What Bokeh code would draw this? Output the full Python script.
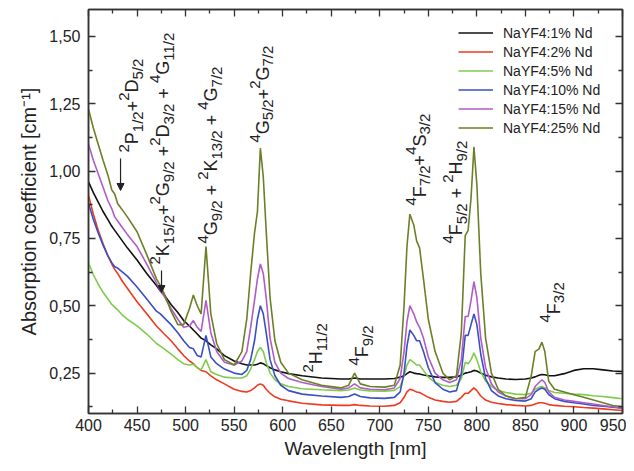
import math
import re
from bokeh.plotting import figure
from bokeh.models import (ColumnDataSource, FixedTicker, LinearAxis, CustomJSTickFormatter,
                          Arrow, NormalHead, Range1d)
from bokeh.embed import file_html
from bokeh.resources import INLINE
from bokeh.core.properties import value

# ---------------- data ----------------
wavelength = [400, 405, 410, 415, 420, 424, 427, 430, 435, 440,
              450, 460, 470, 474, 478, 485, 492, 498, 504, 508,
              512, 516, 521, 526, 532, 540, 550, 558, 563, 567,
              571, 574, 577, 580, 583, 587, 592, 598, 606, 620,
              640, 660, 668, 674, 680, 690, 705, 715, 721, 725,
              728, 731, 735, 738, 741, 745, 750, 757, 765, 772,
              779, 784, 788, 791, 794, 797, 800, 804, 809, 815,
              822, 830, 840, 850, 856, 860, 864, 867, 870, 874,
              880, 890, 900, 910, 920, 930, 940, 950]

nd_1 = [0.96, 0.92, 0.885, 0.85, 0.82, 0.795, 0.78, 0.765, 0.74, 0.715,
        0.67, 0.62, 0.575, 0.555, 0.54, 0.505, 0.475, 0.445, 0.425, 0.41,
        0.395, 0.38, 0.37, 0.355, 0.34, 0.315, 0.295, 0.285, 0.28, 0.28,
        0.28, 0.283, 0.288, 0.285, 0.278, 0.27, 0.262, 0.255, 0.248, 0.24,
        0.232, 0.228, 0.228, 0.232, 0.228, 0.228, 0.228, 0.23, 0.235, 0.24,
        0.248, 0.255, 0.25, 0.248, 0.247, 0.243, 0.24, 0.236, 0.234, 0.234,
        0.236, 0.242, 0.25, 0.252, 0.255, 0.26, 0.258, 0.25, 0.242, 0.236,
        0.232, 0.228, 0.226, 0.228, 0.232, 0.236, 0.242, 0.245, 0.244, 0.24,
        0.24, 0.248, 0.26, 0.266, 0.266, 0.262, 0.258, 0.256]

nd_2 = [0.91, 0.84, 0.78, 0.73, 0.685, 0.655, 0.635, 0.62, 0.59, 0.565,
        0.515, 0.47, 0.425, 0.41, 0.395, 0.37, 0.34, 0.315, 0.295, 0.285,
        0.27, 0.26, 0.255, 0.24, 0.225, 0.21, 0.19, 0.182, 0.18, 0.185,
        0.195, 0.205, 0.21, 0.205, 0.19, 0.175, 0.162, 0.153, 0.147, 0.138,
        0.132, 0.13, 0.13, 0.133, 0.13, 0.128, 0.127, 0.13, 0.14, 0.16,
        0.18, 0.19, 0.185, 0.18, 0.178, 0.17, 0.16, 0.15, 0.145, 0.142,
        0.145, 0.16, 0.175, 0.175, 0.185, 0.195, 0.185, 0.165, 0.15, 0.142,
        0.137, 0.133, 0.13, 0.128, 0.13, 0.135, 0.14, 0.14, 0.138, 0.133,
        0.13, 0.127, 0.125, 0.122, 0.12, 0.117, 0.114, 0.111]

nd_5 = [0.66, 0.615, 0.58, 0.55, 0.525, 0.505, 0.495, 0.485, 0.465, 0.45,
        0.425, 0.395, 0.36, 0.35, 0.34, 0.32, 0.30, 0.285, 0.28, 0.283,
        0.27, 0.262, 0.30, 0.255, 0.245, 0.235, 0.232, 0.232, 0.24, 0.265,
        0.30, 0.33, 0.345, 0.33, 0.29, 0.25, 0.225, 0.21, 0.20, 0.192,
        0.188, 0.185, 0.187, 0.195, 0.187, 0.184, 0.183, 0.186, 0.20, 0.24,
        0.28, 0.30, 0.29, 0.28, 0.28, 0.26, 0.235, 0.215, 0.205, 0.20,
        0.205, 0.23, 0.29, 0.285, 0.30, 0.325, 0.30, 0.255, 0.22, 0.20,
        0.185, 0.178, 0.172, 0.17, 0.175, 0.19, 0.197, 0.20, 0.195, 0.185,
        0.178, 0.175, 0.172, 0.17, 0.166, 0.163, 0.159, 0.155]

nd_10 = [0.88, 0.82, 0.77, 0.725, 0.685, 0.66, 0.645, 0.64, 0.625, 0.61,
         0.57, 0.525, 0.48, 0.47, 0.455, 0.43, 0.40, 0.37, 0.345, 0.34,
         0.315, 0.31, 0.39, 0.31, 0.285, 0.265, 0.25, 0.245, 0.26, 0.30,
         0.37, 0.45, 0.50, 0.47, 0.40, 0.30, 0.24, 0.205, 0.185, 0.172,
         0.165, 0.16, 0.163, 0.172, 0.163, 0.158, 0.156, 0.16, 0.18, 0.25,
         0.35, 0.41, 0.39, 0.37, 0.37, 0.33, 0.27, 0.215, 0.19, 0.18,
         0.185, 0.25, 0.39, 0.39, 0.43, 0.47, 0.43, 0.32, 0.23, 0.185,
         0.165, 0.155, 0.148, 0.146, 0.155, 0.18, 0.19, 0.195, 0.19, 0.17,
         0.155, 0.145, 0.14, 0.135, 0.13, 0.127, 0.123, 0.12]

nd_15 = [1.10, 1.04, 0.99, 0.94, 0.89, 0.86, 0.83, 0.815, 0.79, 0.765,
         0.72, 0.655, 0.585, 0.555, 0.535, 0.49, 0.45, 0.42, 0.425, 0.445,
         0.42, 0.405, 0.52, 0.40, 0.33, 0.29, 0.28, 0.295, 0.33, 0.42,
         0.52, 0.60, 0.655, 0.62, 0.53, 0.38, 0.29, 0.25, 0.23, 0.215,
         0.20, 0.19, 0.195, 0.21, 0.195, 0.19, 0.188, 0.195, 0.23, 0.33,
         0.44, 0.50, 0.47, 0.44, 0.42, 0.38, 0.31, 0.25, 0.225, 0.215,
         0.225, 0.30, 0.46, 0.46, 0.52, 0.59, 0.53, 0.38, 0.27, 0.21,
         0.18, 0.165, 0.155, 0.155, 0.17, 0.20, 0.215, 0.225, 0.215, 0.18,
         0.16, 0.15, 0.145, 0.14, 0.135, 0.13, 0.125, 0.12]

nd_25 = [1.23, 1.16, 1.10, 1.04, 0.985, 0.93, 0.915, 0.88, 0.855, 0.83,
         0.775, 0.69, 0.60, 0.575, 0.545, 0.48, 0.43, 0.43, 0.49, 0.54,
         0.50, 0.47, 0.72, 0.47, 0.36, 0.30, 0.28, 0.33, 0.45, 0.62,
         0.77, 0.85, 1.085, 0.98, 0.78, 0.53, 0.37, 0.29, 0.25, 0.225,
         0.205, 0.195, 0.205, 0.25, 0.21, 0.20, 0.198, 0.205, 0.28, 0.50,
         0.72, 0.84, 0.80, 0.74, 0.715, 0.60, 0.45, 0.33, 0.25, 0.225,
         0.24, 0.40, 0.76, 0.78, 0.90, 1.09, 0.95, 0.62, 0.38, 0.25,
         0.19, 0.165, 0.155, 0.16, 0.24, 0.33, 0.34, 0.365, 0.33, 0.22,
         0.19, 0.18, 0.17, 0.16, 0.15, 0.14, 0.13, 0.125]

series_values = [nd_1, nd_2, nd_5, nd_10, nd_15, nd_25]
series_labels = ["NaYF4:1% Nd", "NaYF4:2% Nd", "NaYF4:5% Nd",
                 "NaYF4:10% Nd", "NaYF4:15% Nd", "NaYF4:25% Nd"]
series_colors = ["#111111", "#ee3a1f", "#7fcc4c", "#3a4fc4", "#b05cc8", "#6b8026"]

x_ticks = [400, 450, 500, 550, 600, 650, 700, 750, 800, 850, 900, 950]
x_minor = [425, 475, 525, 575, 625, 675, 725, 775, 825, 875, 925]
y_ticks = [0.25, 0.50, 0.75, 1.00, 1.25, 1.50]
y_minor = [0.125, 0.375, 0.625, 0.875, 1.125, 1.375]

# transition labels: markup ^{..} superscript, _{..} subscript
level_labels = ["^{2}P_{1/2}+^{2}D_{5/2}",
                "^{2}K_{15/2}+^{2}G_{9/2} +^{2}D_{3/2} + ^{4}G_{11/2}",
                "^{4}G_{9/2} + ^{2}K_{13/2} + ^{4}G_{7/2}",
                "^{4}G_{5/2}+^{2}G_{7/2}",
                "^{2}H_{11/2}",
                "^{4}F_{9/2}",
                "^{4}F_{7/2}+^{4}S_{3/2}",
                "^{4}F_{5/2} + ^{2}H_{9/2}",
                "^{4}F_{3/2}"]
label_wl = [445.3, 477.2, 526.5, 580.0, 634.8, 682.2, 741.0, 779.0, 879.0]
label_abs = [1.069, 0.653, 0.731, 1.106, 0.252, 0.278, 0.872, 0.731, 0.438]

arrow_wl = [433.0, 475.2]
arrow_start = [1.047, 0.631]
arrow_end = [0.928, 0.549]

# ---------------- figure ----------------
FONT = "Liberation Sans"
INK = "#222222"
X0, X1, Y0, Y1 = 400, 950, 0.1, 1.6
FRAME_W, FRAME_H = 534, 404   # 626-88-4, 463-9-50

p = figure(width=626, height=463, x_range=Range1d(X0, X1), y_range=Range1d(Y0, Y1),
           output_backend="svg", toolbar_location=None,
           min_border_left=88, min_border_right=4, min_border_top=9, min_border_bottom=50,
           x_axis_label="Wavelength [nm]", y_axis_label="Absorption coefficient [cm\u207b\u00b9]")
p.xgrid.visible = False
p.ygrid.visible = False
p.outline_line_color = "#333333"
p.outline_line_width = 1.5
p.background_fill_color = "white"
p.border_fill_color = "white"

fmt = CustomJSTickFormatter(code="return tick.toFixed(2).replace('.', ',');")

xa = p.xaxis[0]
xa.ticker = FixedTicker(ticks=x_ticks, minor_ticks=x_minor)
ya = p.yaxis[0]
ya.ticker = FixedTicker(ticks=y_ticks, minor_ticks=y_minor)
ya.formatter = fmt

for ax in (xa, ya):
    ax.major_tick_in = 7
    ax.major_tick_out = 0
    ax.minor_tick_in = 4
    ax.minor_tick_out = 0
    ax.axis_line_color = "#333333"
    ax.axis_line_width = 1.5
    ax.major_tick_line_color = "#333333"
    ax.minor_tick_line_color = "#333333"
    ax.major_tick_line_width = 1.3
    ax.minor_tick_line_width = 1.3
    ax.major_label_text_font = FONT
    ax.major_label_text_font_size = "16px"
    ax.major_label_text_color = INK
    ax.axis_label_text_font = FONT
    ax.axis_label_text_font_style = "normal"
    ax.axis_label_text_color = INK

xa.major_label_standoff = 5
xa.axis_label_standoff = 4
xa.axis_label_text_font_size = "19px"
ya.major_label_standoff = 8
ya.axis_label_standoff = 6
ya.axis_label_text_font_size = "20px"

# mirror ticks on top and right (no labels)
blank = CustomJSTickFormatter(code="return '';")
for side, tk in (("above", FixedTicker(ticks=x_ticks, minor_ticks=x_minor)),
                 ("right", FixedTicker(ticks=y_ticks, minor_ticks=y_minor))):
    ax = LinearAxis(ticker=tk, formatter=blank, major_tick_in=7, major_tick_out=0,
                    minor_tick_in=4, minor_tick_out=0, major_label_text_font_size="1px",
                    major_label_standoff=0, axis_line_color="#333333", axis_line_width=1.5,
                    major_tick_line_color="#333333", minor_tick_line_color="#333333",
                    major_tick_line_width=1.3, minor_tick_line_width=1.3)
    p.add_layout(ax, side)

# curves
for vals, lab, col in zip(series_values, series_labels, series_colors):
    src = ColumnDataSource(dict(x=wavelength, y=vals))
    p.line("x", "y", source=src, line_color=col, line_width=1.6, legend_label=lab)

lg = p.legend[0]
lg.location = (365, 271)
lg.background_fill_alpha = 0
lg.border_line_alpha = 0
lg.padding = 5
lg.spacing = 0
lg.glyph_width = 35
lg.glyph_height = 19
lg.label_height = 19
lg.label_standoff = 10
lg.label_text_font = FONT
lg.label_text_font_size = "14px"
lg.label_text_color = INK

# rotated transition labels built from pieces (main letters + small indices)
ADV = {c: 556 for c in "0123456789"}
ADV.update({"/": 278, "+": 584, " ": 278, "P": 667, "D": 722, "K": 667,
            "G": 778, "F": 611, "H": 722, "S": 667})
BASE = 18
SMALL = 15
px_x = FRAME_W / (X1 - X0)     # pixels per nm
px_y = FRAME_H / (Y1 - Y0)     # pixels per absorption unit

big = dict(x=[], y=[], text=[])
small = dict(x=[], y=[], text=[])
for markup, lx, ly in zip(level_labels, label_wl, label_abs):
    pos = 0.0
    for m in re.finditer(r"\^\{([^}]*)\}|_\{([^}]*)\}|([^\^_]+)", markup):
        if m.group(1) is not None:
            t, size, shift, tgt = m.group(1), SMALL, -0.47 * BASE, small
        elif m.group(2) is not None:
            t, size, shift, tgt = m.group(2), SMALL, 0.26 * BASE, small
        else:
            t, size, shift, tgt = m.group(3), BASE, 0.0, big
        lead = len(t) - len(t.lstrip(" "))
        stripped = t.strip(" ")
        start = pos + lead * ADV[" "] / 1000.0 * size
        if stripped:
            tgt["x"].append(lx + shift / px_x)
            tgt["y"].append(ly + start / px_y)
            tgt["text"].append(stripped)
        pos += sum(ADV[c] for c in t) / 1000.0 * size

for d, fs in ((big, "%dpx" % BASE), (small, "%dpx" % SMALL)):
    p.text("x", "y", text="text", source=ColumnDataSource(d), angle=math.pi / 2,
           text_font=value(FONT), text_font_size=fs,
           text_color=INK, text_align="left", text_baseline="alphabetic")

for ax_wl, a0, a1 in zip(arrow_wl, arrow_start, arrow_end):
    p.add_layout(Arrow(end=NormalHead(size=7, fill_color=INK, line_color=INK, line_width=1),
                       x_start=ax_wl, y_start=a0, x_end=ax_wl, y_end=a1,
                       line_color=INK, line_width=1.2))

open("out.html", "w").write(file_html(p, INLINE))
